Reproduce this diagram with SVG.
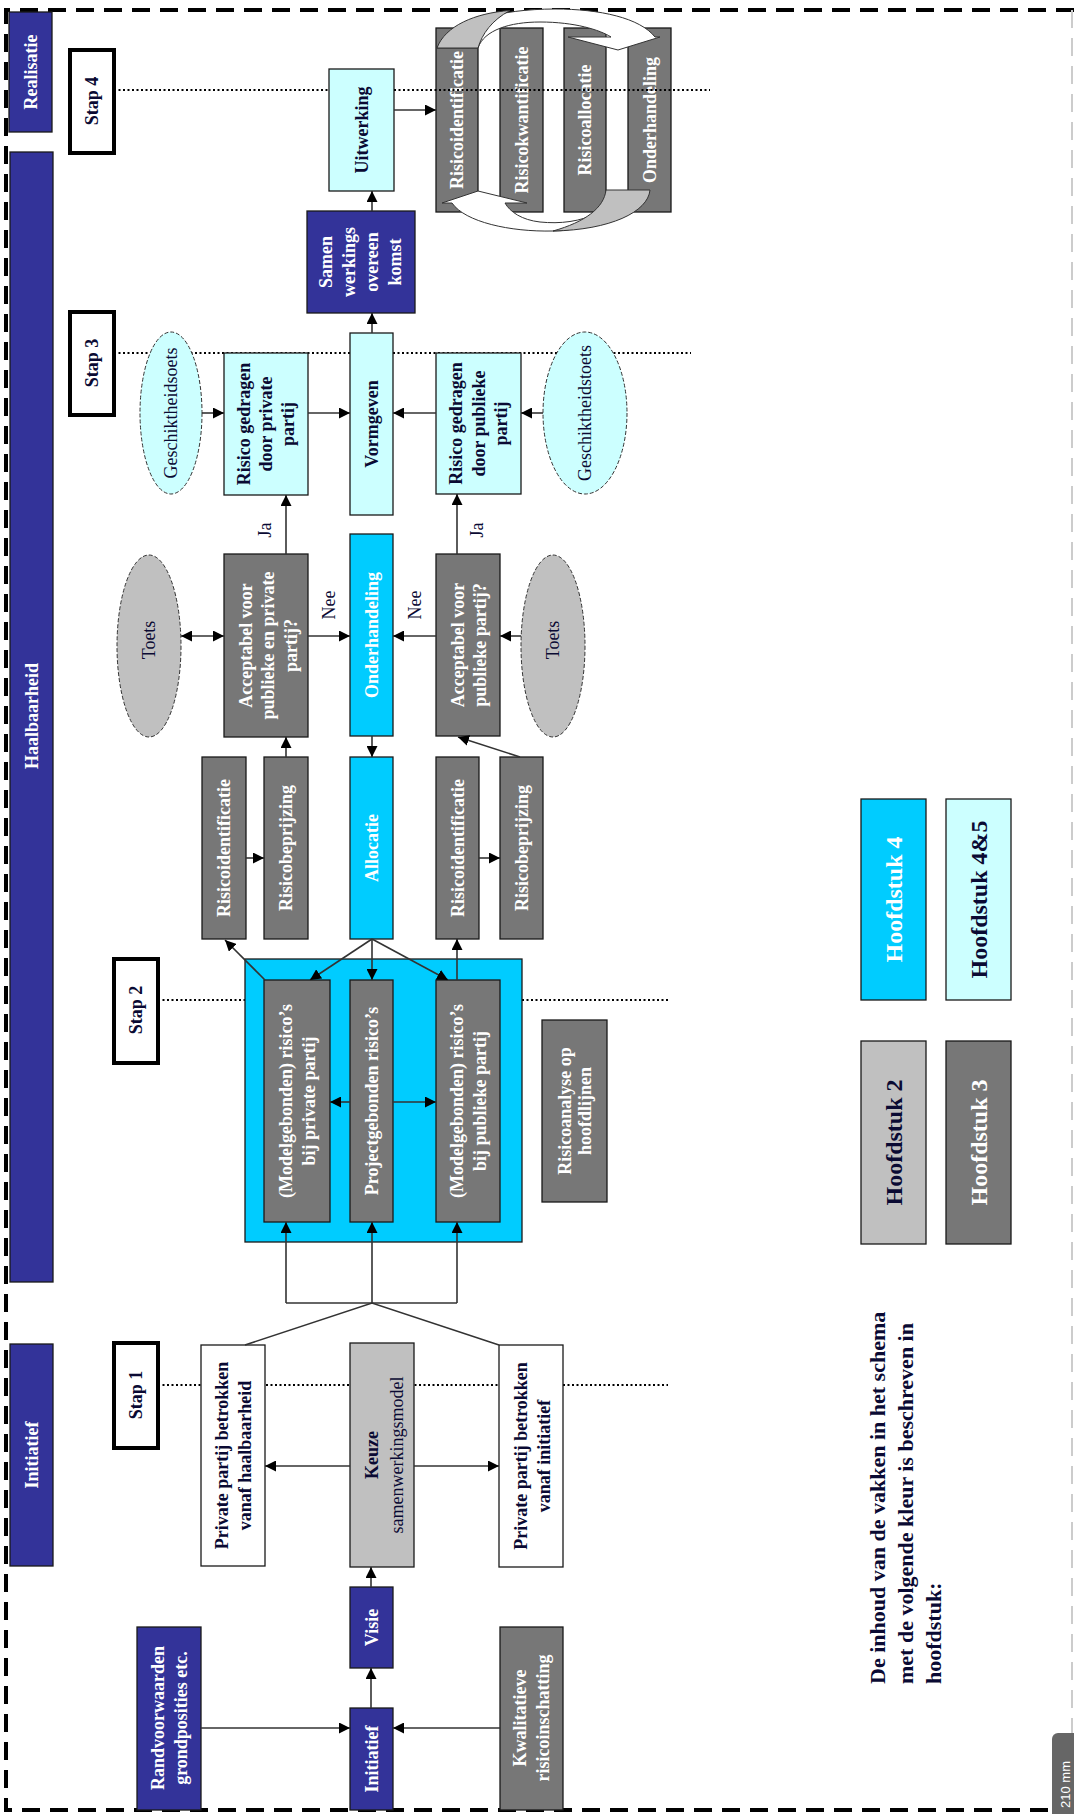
<svg xmlns="http://www.w3.org/2000/svg" width="1074" height="1814" viewBox="0 0 1074 1814">
<defs>
<style>
.tx{font-family:"Liberation Serif","Times New Roman",serif;font-size:18px;font-weight:bold;text-anchor:middle}
.nb{font-weight:normal}
.wt{fill:#ffffff}
.dk{fill:#0a0a33}
.bar{font-size:18px}
.leg{font-size:24px}
.para{font-size:22px;text-anchor:start}
.box{stroke:#1a1a1a;stroke-width:1.3}
.db{fill:#333399}
.dg{fill:#777777}
.lg{fill:#c0c0c0}
.cy{fill:#00ccff}
.lc{fill:#ccffff}
.wh{fill:#ffffff}
.stap{fill:#ffffff;stroke:#000;stroke-width:4}
.ell{stroke:#333;stroke-width:1;stroke-dasharray:4 2}
.dot{stroke:#000;stroke-width:2;stroke-dasharray:2 2.5;fill:none}
.cn{stroke:#333;stroke-width:1.6;fill:none}
.rib{stroke:#333;stroke-width:1;fill:#ffffff}
.ribg{stroke:#333;stroke-width:1;fill:#c0c0c0}
</style>
<marker id="ah" markerWidth="11" markerHeight="11" refX="11" refY="5.5" orient="auto-start-reverse" markerUnits="userSpaceOnUse"><path d="M0,0 L11,5.5 L0,11 z" fill="#000"/></marker>
</defs>
<rect x="0" y="0" width="1074" height="1814" fill="#ffffff"/>
<g id="page-border">
<path d="M1074,10 H6 V1810 H1052" fill="none" stroke="#000" stroke-width="4" stroke-dasharray="18 10"/>
<line x1="1072" y1="10" x2="1072" y2="1733" stroke="#cccccc" stroke-width="2" stroke-dasharray="18 10"/>
</g>
<g id="step-lines">
<line class="dot" x1="114" y1="353" x2="691" y2="353"/>
<line class="dot" x1="158" y1="1000" x2="245" y2="1000"/>
<line class="dot" x1="522" y1="1000" x2="669" y2="1000"/>
<line class="dot" x1="158" y1="1385" x2="668" y2="1385"/>
</g>
<g id="phase-realisatie"><rect class="box db" x="9" y="12" width="43" height="120"/><text class="tx wt bar" transform="translate(30.5,72) rotate(-90)" y="6">Realisatie</text></g>
<g id="phase-haalbaarheid"><rect class="box db" x="10" y="152" width="43" height="1130"/><text class="tx wt bar" transform="translate(31.5,716) rotate(-90)" y="6">Haalbaarheid</text></g>
<g id="phase-initiatief"><rect class="box db" x="10" y="1344" width="43" height="222"/><text class="tx wt bar" transform="translate(31.5,1455) rotate(-90)" y="6">Initiatief</text></g>
<g id="stap4"><rect class="stap" x="70" y="50" width="44" height="103"/><text class="tx dk bar" transform="translate(92,101) rotate(-90)" y="6">Stap 4</text></g>
<g id="stap3"><rect class="stap" x="70" y="312" width="44" height="103"/><text class="tx dk bar" transform="translate(92,363) rotate(-90)" y="6">Stap 3</text></g>
<g id="stap2"><rect class="stap" x="114" y="959" width="44" height="104"/><text class="tx dk bar" transform="translate(136,1010) rotate(-90)" y="6">Stap 2</text></g>
<g id="stap1"><rect class="stap" x="114" y="1343" width="44" height="105"/><text class="tx dk bar" transform="translate(136,1395) rotate(-90)" y="6">Stap 1</text></g>
<g id="uitwerking"><rect class="box lc" x="329" y="69" width="65" height="122"/><text class="tx dk" transform="translate(361.5,130) rotate(-90)" y="6">Uitwerking</text></g>
<g id="samenwerkingsovereenkomst"><rect class="box db" x="307" y="211" width="108" height="102"/><text class="tx wt" transform="translate(360,262) rotate(-90)"><tspan x="0" y="-28.5">Samen</tspan><tspan x="0" y="-5.5">werkings</tspan><tspan x="0" y="17.5">overeen</tspan><tspan x="0" y="40.5">komst</tspan></text></g>
<g id="cyc-identificatie"><rect class="box dg" x="436" y="28" width="42" height="184"/><text class="tx wt" transform="translate(457,120) rotate(-90)" y="6">Risicoidentificatie</text></g>
<g id="cyc-kwantificatie"><rect class="box dg" x="500" y="28" width="43" height="184"/><text class="tx wt" transform="translate(521.5,120) rotate(-90)" y="6">Risicokwantificatie</text></g>
<g id="cyc-allocatie"><rect class="box dg" x="564" y="28" width="42" height="184"/><text class="tx wt" transform="translate(585,120) rotate(-90)" y="6">Risicoallocatie</text></g>
<g id="cyc-onderhandeling"><rect class="box dg" x="628" y="28" width="43" height="184"/><text class="tx wt" transform="translate(649.5,120) rotate(-90)" y="6">Onderhandeling</text></g>
<g id="cycle-arrows">
<path class="rib" d="M478,48 C484,30 510,22 540,22 C575,22 600,30 611,37 L568,37 L618,50 L660,37 L655,37 C640,18 600,9 555,9 C500,9 450,22 437,48 Z"/>
<path class="ribg" d="M437,48 C445,26 475,13 510,10.5 C492,20 482,34 478,48 Z"/>
<path class="rib" d="M600,212 C580,222 560,224 540,222 C522,220 510,212 505,203 L527,203 L478,191 L442,203 L452,203 C465,222 510,232 553,231 C575,231 592,224 600,212 Z"/>
<path class="ribg" d="M606,190 L650,190 C648,212 610,230 553,231 C585,222 604,208 606,190 Z"/>
</g>
<g id="stap4-line">
<line class="dot" x1="114" y1="90" x2="329" y2="90"/>
<line class="dot" x1="394" y1="90" x2="710" y2="90"/>
</g>
<g id="geschikt-priv"><ellipse class="ell lc" cx="171" cy="413" rx="31" ry="81"/><text class="tx dk nb" transform="translate(171,413) rotate(-90)" y="6">Geschiktheidsoets</text></g>
<g id="risico-priv"><rect class="box lc" x="224" y="353" width="84" height="142"/><text class="tx dk" transform="translate(266,424) rotate(-90)"><tspan x="0" y="-16">Risico gedragen</tspan><tspan x="0" y="6">door private</tspan><tspan x="0" y="28">partij</tspan></text></g>
<g id="vormgeven"><rect class="box lc" x="350" y="333" width="43" height="182"/><text class="tx dk" transform="translate(371.5,424) rotate(-90)" y="6">Vormgeven</text></g>
<g id="risico-publ"><rect class="box lc" x="436" y="353" width="85" height="141"/><text class="tx dk" transform="translate(478.5,423.5) rotate(-90)"><tspan x="0" y="-16.5">Risico gedragen</tspan><tspan x="0" y="6">door publieke</tspan><tspan x="0" y="28.5">partij</tspan></text></g>
<g id="geschikt-publ"><ellipse class="ell lc" cx="585" cy="413" rx="42" ry="81"/><text class="tx dk nb" transform="translate(585,413) rotate(-90)" y="6">Geschiktheidstoets</text></g>
<g id="toets-priv"><ellipse class="ell lg" cx="149" cy="646" rx="32" ry="91"/><text class="tx dk nb" transform="translate(149,640) rotate(-90)" y="6">Toets</text></g>
<g id="acc-priv"><rect class="box dg" x="224" y="554" width="84" height="183"/><text class="tx wt" transform="translate(268,645.5) rotate(-90)"><tspan x="0" y="-16.5">Acceptabel voor</tspan><tspan x="0" y="6">publieke en private</tspan><tspan x="0" y="28.5">partij?</tspan></text></g>
<g id="onderhandeling"><rect class="box cy" x="350" y="534" width="43" height="202"/><text class="tx wt" transform="translate(371.5,635) rotate(-90)" y="6">Onderhandeling</text></g>
<g id="acc-publ"><rect class="box dg" x="436" y="554" width="64" height="182"/><text class="tx wt" transform="translate(469,645) rotate(-90)"><tspan x="0" y="-5">Acceptabel voor</tspan><tspan x="0" y="17">publieke partij?</tspan></text></g>
<g id="toets-publ"><ellipse class="ell lg" cx="553" cy="646" rx="32" ry="91"/><text class="tx dk nb" transform="translate(553,640) rotate(-90)" y="6">Toets</text></g>
<g id="ident-priv"><rect class="box dg" x="202" y="757" width="44" height="182"/><text class="tx wt" transform="translate(224,848) rotate(-90)" y="6">Risicoidentificatie</text></g>
<g id="beprijz-priv"><rect class="box dg" x="264" y="757" width="44" height="182"/><text class="tx wt" transform="translate(286,848) rotate(-90)" y="6">Risicobeprijzing</text></g>
<g id="allocatie"><rect class="box cy" x="350" y="757" width="43" height="182"/><text class="tx wt" transform="translate(371.5,848) rotate(-90)" y="6">Allocatie</text></g>
<g id="ident-publ"><rect class="box dg" x="436" y="757" width="43" height="182"/><text class="tx wt" transform="translate(457.5,848) rotate(-90)" y="6">Risicoidentificatie</text></g>
<g id="beprijz-publ"><rect class="box dg" x="500" y="757" width="43" height="182"/><text class="tx wt" transform="translate(521.5,848) rotate(-90)" y="6">Risicobeprijzing</text></g>
<g id="risico-container"><rect class="box cy" x="245" y="959" width="277" height="283"/></g>
<g id="model-priv"><rect class="box dg" x="264" y="980" width="66" height="242"/><text class="tx wt" transform="translate(297,1101) rotate(-90)"><tspan x="0" y="-5.5">(Modelgebonden) risico’s</tspan><tspan x="0" y="17.5">bij private partij</tspan></text></g>
<g id="project"><rect class="box dg" x="350" y="980" width="43" height="242"/><text class="tx wt" transform="translate(371.5,1101) rotate(-90)" y="6">Projectgebonden risico’s</text></g>
<g id="model-publ"><rect class="box dg" x="436" y="980" width="64" height="242"/><text class="tx wt" transform="translate(468,1101) rotate(-90)"><tspan x="0" y="-5.5">(Modelgebonden) risico’s</tspan><tspan x="0" y="17.5">bij publieke partij</tspan></text></g>
<g id="risicoanalyse"><rect class="box dg" x="542" y="1020" width="65" height="182"/><text class="tx wt" transform="translate(574.5,1111) rotate(-90)"><tspan x="0" y="-4">Risicoanalyse op</tspan><tspan x="0" y="16">hoofdlijnen</tspan></text></g>
<g id="private-haalbaarheid"><rect class="box wh" x="201" y="1345" width="64" height="221"/><text class="tx dk" transform="translate(233.5,1455.5) rotate(-90)"><tspan x="0" y="-5.5">Private partij betrokken</tspan><tspan x="0" y="17.5">vanaf haalbaarheid</tspan></text></g>
<g id="keuze"><rect class="box lg" x="350" y="1343" width="64" height="224"/><text class="tx dk" transform="translate(384,1455) rotate(-90)"><tspan x="0" y="-6.5">Keuze</tspan><tspan x="0" y="18.5" font-weight="normal">samenwerkingsmodel</tspan></text></g>
<g id="private-initiatief"><rect class="box wh" x="499" y="1345" width="64" height="222"/><text class="tx dk" transform="translate(532,1456) rotate(-90)"><tspan x="0" y="-5.5">Private partij betrokken</tspan><tspan x="0" y="17.5">vanaf initiatief</tspan></text></g>
<g id="visie"><rect class="box db" x="350" y="1587" width="43" height="81"/><text class="tx wt" transform="translate(371.5,1627.5) rotate(-90)" y="6">Visie</text></g>
<g id="initiatief"><rect class="box db" x="350" y="1708" width="43" height="102"/><text class="tx wt" transform="translate(371.5,1759) rotate(-90)" y="6">Initiatief</text></g>
<g id="randvoorwaarden"><rect class="box db" x="137" y="1627" width="64" height="183"/><text class="tx wt" transform="translate(169,1718) rotate(-90)"><tspan x="0" y="-5.5">Randvoorwaarden</tspan><tspan x="0" y="17.5">grondposities etc.</tspan></text></g>
<g id="kwalitatieve"><rect class="box dg" x="500" y="1627" width="63" height="183"/><text class="tx wt" transform="translate(531.5,1718) rotate(-90)"><tspan x="0" y="-5.5">Kwalitatieve</tspan><tspan x="0" y="17.5">risicoinschatting</tspan></text></g>
<g id="connectors">
<line class="cn" x1="394" y1="110" x2="436" y2="110" marker-end="url(#ah)"/>
<line class="cn" x1="372" y1="211" x2="372" y2="191" marker-end="url(#ah)"/>
<line class="cn" x1="372" y1="333" x2="372" y2="313" marker-end="url(#ah)"/>
<line class="cn" x1="202" y1="413" x2="224" y2="413" marker-end="url(#ah)"/>
<line class="cn" x1="308" y1="413" x2="350" y2="413" marker-end="url(#ah)"/>
<line class="cn" x1="436" y1="413" x2="393" y2="413" marker-end="url(#ah)"/>
<line class="cn" x1="543" y1="413" x2="521" y2="413" marker-end="url(#ah)"/>
<line class="cn" x1="286" y1="554" x2="286" y2="495" marker-end="url(#ah)"/>
<line class="cn" x1="457" y1="554" x2="457" y2="494" marker-end="url(#ah)"/>
<line class="cn" x1="181" y1="636" x2="224" y2="636" marker-start="url(#ah)" marker-end="url(#ah)"/>
<line class="cn" x1="308" y1="636" x2="350" y2="636" marker-end="url(#ah)"/>
<line class="cn" x1="436" y1="636" x2="393" y2="636" marker-end="url(#ah)"/>
<line class="cn" x1="521" y1="636" x2="500" y2="636" marker-end="url(#ah)"/>
<line class="cn" x1="372" y1="736" x2="372" y2="757" marker-end="url(#ah)"/>
<line class="cn" x1="286" y1="757" x2="286" y2="737" marker-end="url(#ah)"/>
<line class="cn" x1="246" y1="858" x2="264" y2="858" marker-end="url(#ah)"/>
<line class="cn" x1="479" y1="858" x2="500" y2="858" marker-end="url(#ah)"/>
<line class="cn" x1="520" y1="757" x2="458" y2="737" marker-end="url(#ah)"/>
<line class="cn" x1="372" y1="939" x2="310" y2="980" marker-end="url(#ah)"/>
<line class="cn" x1="372" y1="939" x2="372" y2="980" marker-end="url(#ah)"/>
<line class="cn" x1="372" y1="939" x2="448" y2="980" marker-end="url(#ah)"/>
<line class="cn" x1="265" y1="980" x2="225" y2="940" marker-end="url(#ah)"/>
<line class="cn" x1="457" y1="980" x2="457" y2="939" marker-end="url(#ah)"/>
<line class="cn" x1="350" y1="1102" x2="330" y2="1102" marker-end="url(#ah)"/>
<line class="cn" x1="393" y1="1102" x2="436" y2="1102" marker-end="url(#ah)"/>
<polyline class="cn" points="245,1345 372,1303 499,1345" stroke-width="1.2"/>
<line class="cn" x1="286" y1="1303" x2="457" y2="1303"/>
<line class="cn" x1="286" y1="1303" x2="286" y2="1222" marker-end="url(#ah)"/>
<line class="cn" x1="372" y1="1303" x2="372" y2="1222" marker-end="url(#ah)"/>
<line class="cn" x1="457" y1="1303" x2="457" y2="1222" marker-end="url(#ah)"/>
<line class="cn" x1="350" y1="1466" x2="265" y2="1466" marker-end="url(#ah)"/>
<line class="cn" x1="414" y1="1466" x2="499" y2="1466" marker-end="url(#ah)"/>
<line class="cn" x1="371" y1="1587" x2="371" y2="1567" marker-end="url(#ah)"/>
<line class="cn" x1="371" y1="1708" x2="371" y2="1668" marker-end="url(#ah)"/>
<line class="cn" x1="201" y1="1728" x2="350" y2="1728" marker-end="url(#ah)"/>
<line class="cn" x1="500" y1="1728" x2="393" y2="1728" marker-end="url(#ah)"/>
<text class="tx dk nb" transform="translate(265,530) rotate(-90)" y="6">Ja</text>
<text class="tx dk nb" transform="translate(477,530) rotate(-90)" y="6">Ja</text>
<text class="tx dk nb" transform="translate(329,605) rotate(-90)" y="6">Nee</text>
<text class="tx dk nb" transform="translate(415,605) rotate(-90)" y="6">Nee</text>
</g>
<g id="legend-h4"><rect class="box cy" x="861" y="799" width="65" height="201"/><text class="tx wt leg" transform="translate(893.5,899.5) rotate(-90)" y="8">Hoofdstuk 4</text></g>
<g id="legend-h45"><rect class="box lc" x="946" y="799" width="65" height="201"/><text class="tx dk leg" transform="translate(978.5,899.5) rotate(-90)" y="8">Hoofdstuk 4&amp;5</text></g>
<g id="legend-h2"><rect class="box lg" x="861" y="1041" width="65" height="203"/><text class="tx dk leg" transform="translate(893.5,1142.5) rotate(-90)" y="8">Hoofdstuk 2</text></g>
<g id="legend-h3"><rect class="box dg" x="946" y="1041" width="65" height="203"/><text class="tx wt leg" transform="translate(978.5,1142.5) rotate(-90)" y="8">Hoofdstuk 3</text></g>
<g id="legend-text"><text class="tx dk para" transform="translate(877,1684) rotate(-90)"><tspan x="0" y="7.5">De inhoud van de vakken in het schema</tspan><tspan x="0" y="35.5">met de volgende kleur is beschreven in</tspan><tspan x="0" y="63.5">hoofdstuk:</tspan></text></g>
<g id="ruler-tab"><rect x="1052" y="1733" width="30" height="90" rx="6" fill="#666666"/><text transform="translate(1070,1808) rotate(-90)" font-family="Liberation Sans, Arial, sans-serif" font-size="13" fill="#ffffff">210 mm</text></g>
</svg>
